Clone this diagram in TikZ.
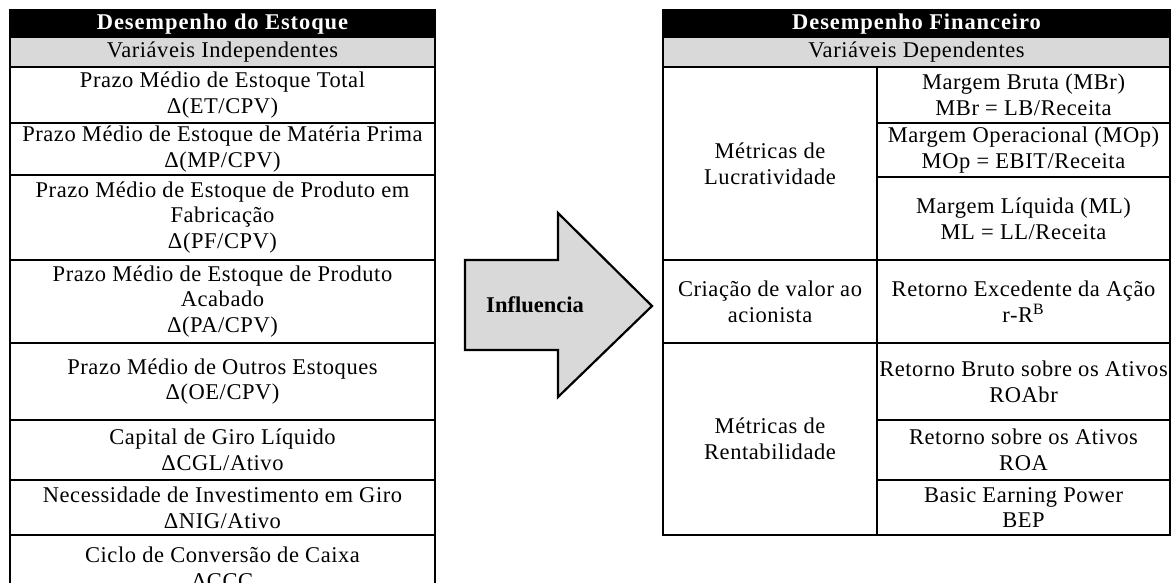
\documentclass[tikz,border=0pt]{standalone}
\usepackage{fontspec}
\setmainfont{Liberation Serif}[LetterSpace=2.5]
\definecolor{graybg}{HTML}{D9D9D9}
\begin{document}
\begin{tikzpicture}[x=0.5pt,y=-0.5pt,
  txt/.style={align=center, inner sep=0pt, font=\fontsize{11.25}{12.9}\selectfont},
  hdr/.style={align=center, inner sep=0pt, text=white, font=\fontsize{11.25}{12.9}\selectfont\bfseries\addfontfeature{LetterSpace=4}},
  frame/.style={line width=1.1pt},
  rule/.style={line width=0.95pt}]
\useasboundingbox (0,0) rectangle (1172,583);
\clip (0,0) rectangle (1172,583);
\fill[white] (0,0) rectangle (1172,583);

% ---------- left table ----------
\fill[black] (10,10) rectangle (435,38);
\fill[graybg] (10,38) rectangle (435,67);
\foreach \yy in {67,123,175,260,343,420,480,535}
  \draw[rule] (10,\yy) -- (435,\yy);
\draw[frame] (10,600) -- (10,10) -- (435,10) -- (435,600);

\node[hdr] (lh) at (222.5,24) {Desempenho do Estoque};
\node[txt] (lg) at (222.5,52.5) {Variáveis Independentes};
\node[txt] (l1) at (222.5,95) {Prazo Médio de Estoque Total\\Δ(ET/CPV)};
\node[txt] (l2) at (222.5,149) {Prazo Médio de Estoque de Matéria Prima\\Δ(MP/CPV)};
\node[txt] (l3) at (222.5,217.5) {Prazo Médio de Estoque de Produto em\\Fabricação\\Δ(PF/CPV)};
\node[txt] (l4) at (222.5,301.5) {Prazo Médio de Estoque de Produto\\Acabado\\Δ(PA/CPV)};
\node[txt] (l5) at (222.5,381.5) {Prazo Médio de Outros Estoques\\Δ(OE/CPV)};
\node[txt] (l6) at (222.5,450) {Capital de Giro Líquido\\ΔCGL/Ativo};
\node[txt] (l7) at (222.5,507.5) {Necessidade de Investimento em Giro\\ΔNIG/Ativo};
\node[txt] (l8) at (222.5,568) {Ciclo de Conversão de Caixa\\ΔCCC};

% ---------- arrow ----------
\draw[frame, fill=graybg, line join=miter] (465,260) -- (558,260) -- (558,213) -- (652,306)
  -- (558,397) -- (558,350) -- (465,350) -- cycle;
\node[inner sep=0pt, font=\fontsize{11.25}{12.9}\selectfont\bfseries\addfontfeature{LetterSpace=0}] (infl) at (535,305) {Influencia};

% ---------- right table ----------
\fill[black] (663,10) rectangle (1170,38);
\fill[graybg] (663,38) rectangle (1170,67);
\foreach \yy in {67,260,343}
  \draw[rule] (663,\yy) -- (1170,\yy);
\foreach \yy in {123,177,420,480}
  \draw[rule] (877,\yy) -- (1170,\yy);
\draw[rule] (877,67) -- (877,535);
\draw[frame] (663,10) rectangle (1170,535);

\node[hdr] (rh) at (916.5,24) {Desempenho Financeiro};
\node[txt] (rg) at (916.5,52.5) {Variáveis Dependentes};
\node[txt] (m1) at (770,163.5) {Métricas de\\Lucratividade};
\node[txt] (m2) at (770,301.5) {Criação de valor ao\\acionista};
\node[txt] (m3) at (770,439) {Métricas de\\Rentabilidade};
\node[txt] (r1) at (1023.5,95) {Margem Bruta (MBr)\\MBr = LB/Receita};
\node[txt] (r2) at (1023.5,150) {Margem Operacional (MOp)\\MOp = EBIT/Receita};
\node[txt] (r3) at (1023.5,218.5) {Margem Líquida (ML)\\ML = LL/Receita};
\node[txt] (r4) at (1023.5,301.5) {Retorno Excedente da Ação\\r-R\textsuperscript{B}};
\node[txt] (r5) at (1023.5,381.5) {Retorno Bruto sobre os Ativos\\ROAbr};
\node[txt] (r6) at (1023.5,450) {Retorno sobre os Ativos\\ROA};
\node[txt] (r7) at (1023.5,507.5) {Basic Earning Power\\BEP};
\end{tikzpicture}
\end{document}
